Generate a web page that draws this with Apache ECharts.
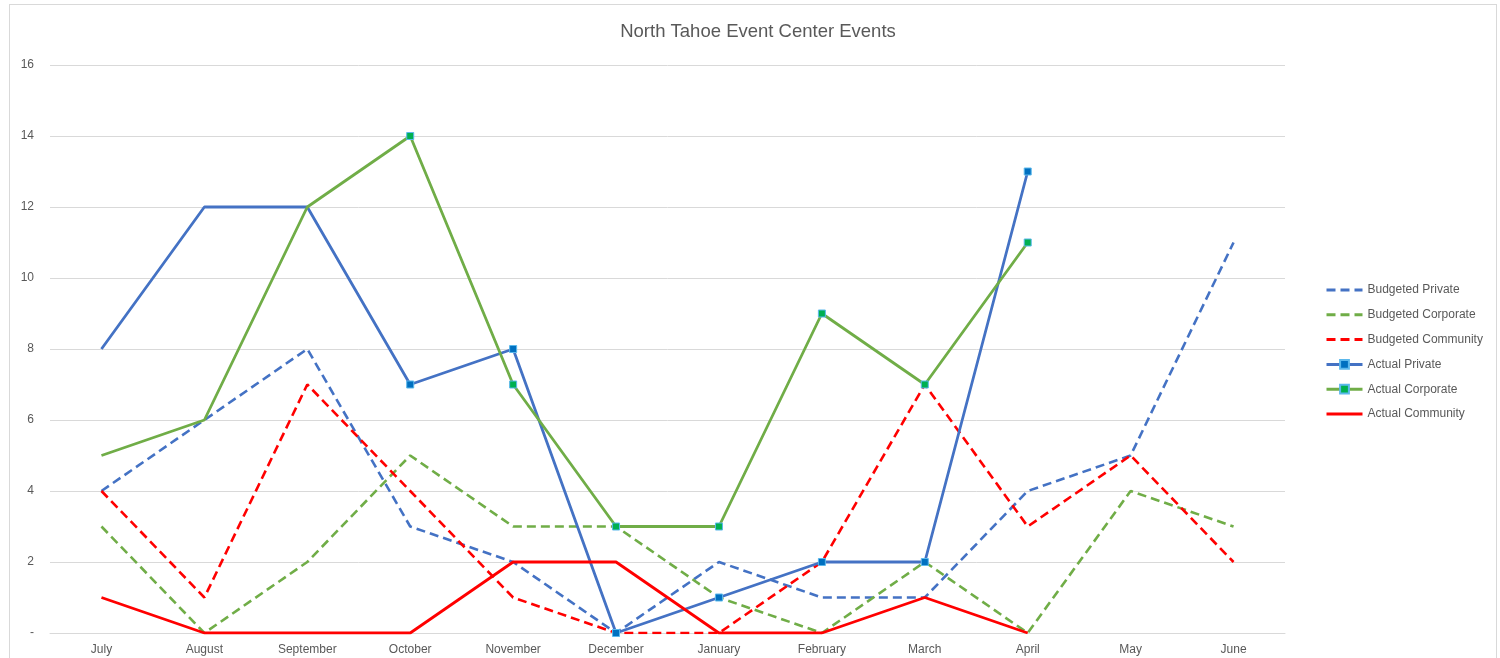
<!DOCTYPE html>
<html>
<head>
<meta charset="utf-8">
<script src="https://cdn.jsdelivr.net/npm/echarts@6/dist/echarts.min.js"></script>
<style>
html,body{margin:0;padding:0;background:#fff;}
#frame{position:absolute;left:9px;top:4px;width:1488px;height:660px;border:1px solid #D9D9D9;box-sizing:border-box;}
#chart{position:absolute;left:0;top:0;width:1500px;height:658px;}
</style>
</head>
<body>
<div id="frame"></div>
<div id="chart"></div>
<script>
const months = ["July","August","September","October","November","December","January","February","March","April","May","June"];
const yTicks = [0,2,4,6,8,10,12,14,16];
const budgetedPrivate   = [4, 6, 8, 3, 2, 0, 2, 1, 1, 4, 5, 11];
const budgetedCorporate = [3, 0, 2, 5, 3, 3, 1, 0, 2, 0, 4, 3];
const budgetedCommunity = [4, 1, 7, 4, 1, 0, 0, 2, 7, 3, 5, 2];
const actualPrivate     = [8, 12, 12, 7, 8, 0, 1, 2, 2, 13];
const actualCorporate   = [5, 6, 12, 14, 7, 3, 3, 9, 7, 11];
const actualCommunity   = [1, 0, 0, 0, 2, 2, 0, 0, 1, 0];
const markerStart = 3; // markers shown from October onward

const BLUE = '#4472C4', GREEN = '#70AD47', RED = '#FF0000';
const FONT = '"Liberation Sans", Arial, sans-serif';

function withMarkers(arr){
  return arr.map((v,i)=> i < markerStart ? {value:v, symbol:'none'} : v);
}
function dashed(name, data, color){
  return {name, type:'line', data, symbol:'none', z:2,
    lineStyle:{color, width:2.6, type:[9,5]}, itemStyle:{color}};
}
function actual(name, data, color, markerFill){
  return {name, type:'line', data, z:3,
    symbol: markerFill ? 'rect' : 'none', symbolSize: 7,
    lineStyle:{color, width:2.8, type:'solid'},
    itemStyle:{color: markerFill || color, borderColor:'#5BB8EC', borderWidth:1}};
}
const noSym = n => ({name:n, itemStyle:{opacity:0, borderWidth:0}, lineStyle:{width:3}});
const withSym = n => ({name:n, lineStyle:{width:3}});

const chart = echarts.init(document.getElementById('chart'), null, {renderer:'canvas'});
chart.setOption({
  animation:false,
  backgroundColor:'transparent',
  title:{text:'North Tahoe Event Center Events', left:753, top:17, textAlign:'center',
    textStyle:{fontFamily:FONT, fontSize:18.5, fontWeight:'normal', color:'#595959'}},
  grid:{left:50, right:215, top:65, bottom:25, containLabel:false},
  legend:{orient:'vertical', left:1320, top:279, itemWidth:36, itemHeight:11, itemGap:12.8,
    textStyle:{fontFamily:FONT, fontSize:12, color:'#595959'},
    data:[noSym('Budgeted Private'), noSym('Budgeted Corporate'), noSym('Budgeted Community'),
          withSym('Actual Private'), withSym('Actual Corporate'), noSym('Actual Community')]},
  xAxis:{type:'category', data:months, boundaryGap:true,
    axisLine:{lineStyle:{color:'#D9D9D9', width:1}}, axisTick:{show:false},
    axisLabel:{fontFamily:FONT, fontSize:12, color:'#595959', margin:11}},
  yAxis:{type:'value', min:0, max:16, interval:2,
    axisLine:{show:false}, axisTick:{show:false},
    splitLine:{lineStyle:{color:'#D9D9D9', width:1}},
    axisLabel:{fontFamily:FONT, fontSize:12, color:'#595959', margin:16,
      formatter:v=> v===0 ? '-' : String(yTicks[yTicks.indexOf(v)])}},
  series:[
    dashed('Budgeted Private', budgetedPrivate, BLUE),
    dashed('Budgeted Corporate', budgetedCorporate, GREEN),
    dashed('Budgeted Community', budgetedCommunity, RED),
    actual('Actual Private', withMarkers(actualPrivate), BLUE, '#0070C0'),
    actual('Actual Corporate', withMarkers(actualCorporate), GREEN, '#00B050'),
    actual('Actual Community', actualCommunity, RED, null)
  ]
});
</script>
</body>
</html>
